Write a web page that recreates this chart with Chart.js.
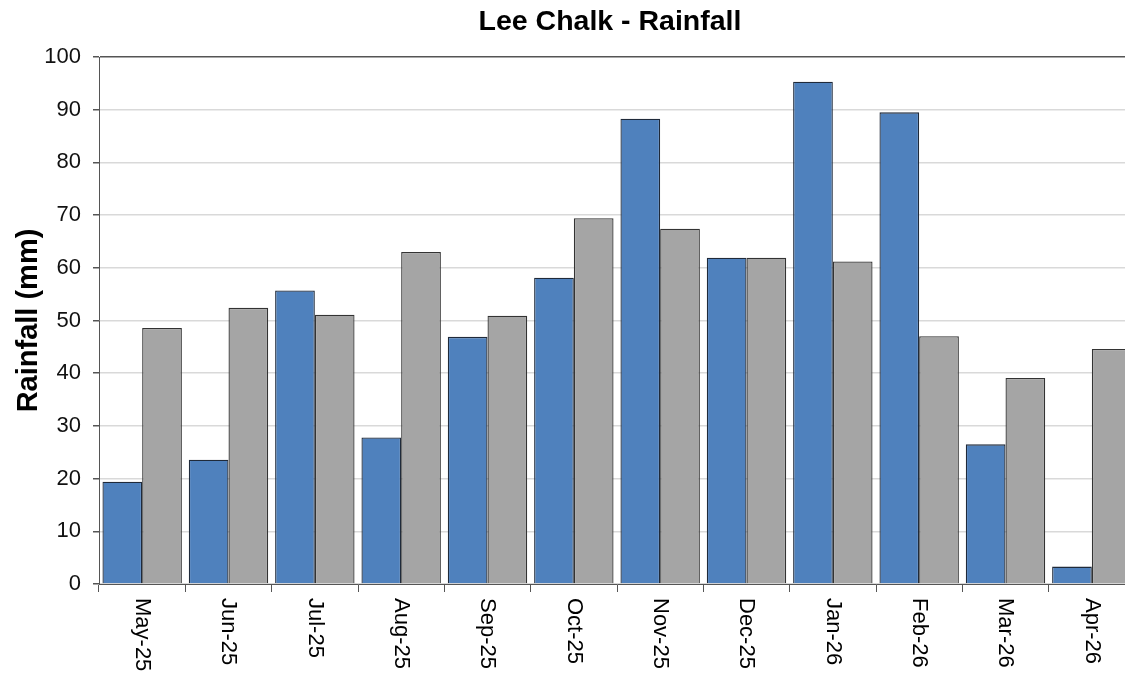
<!DOCTYPE html>
<html>
<head>
<meta charset="utf-8">
<script src="https://cdn.jsdelivr.net/npm/chart.js@4"></script>
<style>
  html, body { margin: 0; padding: 0; background: #fff; overflow: hidden; }
  #wrap { width: 1140px; height: 675px; }
</style>
</head>
<body>
<div id="wrap"><canvas id="rainChart" width="1140" height="675"></canvas></div>
<script>
const months = ['May-25', 'Jun-25', 'Jul-25', 'Aug-25', 'Sep-25', 'Oct-25', 'Nov-25', 'Dec-25', 'Jan-26', 'Feb-26', 'Mar-26', 'Apr-26'];
const rainfall = [19.4, 23.6, 55.7, 27.8, 46.9, 58.1, 88.3, 61.9, 95.3, 89.5, 26.5, 3.3];
const average = [48.6, 52.4, 51.1, 63.0, 50.9, 69.4, 67.4, 61.9, 61.2, 47.0, 39.1, 44.6];
const yTicks = [0, 10, 20, 30, 40, 50, 60, 70, 80, 90, 100];

const FONT = "'Liberation Sans', Arial, sans-serif";

// title and rotated month labels (top-to-bottom reading), drawn on the canvas
const labelsPlugin = {
  id: 'labels',
  afterDraw(chart) {
    const ctx = chart.ctx;
    const x = chart.scales.x;
    const area = chart.chartArea;
    ctx.save();
    ctx.fillStyle = '#000';
    ctx.font = `bold 28.5px ${FONT}`;
    ctx.textAlign = 'center';
    ctx.textBaseline = 'middle';
    ctx.fillText('Lee Chalk - Rainfall', 610, 22);

    ctx.font = `22px ${FONT}`;
    ctx.textAlign = 'left';
    months.forEach((m, i) => {
      ctx.save();
      ctx.translate(x.getPixelForValue(i), area.bottom + 14);
      ctx.rotate(Math.PI / 2);
      ctx.fillText(m, 0, 0);
      ctx.restore();
    });
    ctx.restore();
  }
};

new Chart(document.getElementById('rainChart'), {
  type: 'bar',
  data: {
    labels: months,
    datasets: [
      { label: 'Rainfall', data: rainfall, backgroundColor: '#4F81BD', borderColor: '#1f2a3a', borderWidth: 1.3 },
      { label: 'Average', data: average, backgroundColor: '#A5A5A5', borderColor: '#333', borderWidth: 1.3 }
    ]
  },
  options: {
    responsive: false,
    animation: false,
    layout: { padding: { top: 57, left: 12, right: 5, bottom: 0 } },
    datasets: { bar: { categoryPercentage: 0.92, barPercentage: 1.0 } },
    plugins: { legend: { display: false }, title: { display: false }, tooltip: { enabled: false } },
    scales: {
      x: {
        grid: { display: true, drawOnChartArea: false, drawTicks: true, tickLength: 8, color: '#555', offset: true },
        border: { color: '#555', width: 1 },
        ticks: { display: false },
        afterFit(s) { s.height = 91; }
      },
      y: {
        min: 0,
        max: 100,
        afterBuildTicks(s) { s.ticks = yTicks.map(v => ({ value: v })); },
        grid: {
          color: c => (c.tick && c.tick.value === 100 ? '#555' : '#d9d9d9'),
          lineWidth: 1.5,
          tickColor: '#555',
          tickLength: 6
        },
        border: { color: '#555', width: 1 },
        ticks: { color: '#111', font: { family: FONT, size: 22 }, padding: 12 },
        title: { display: true, text: 'Rainfall (mm)', color: '#000', font: { family: FONT, size: 29, weight: 'bold' }, padding: { top: 0, bottom: 0 } },
        afterFit(s) { s.width = 87; }
      }
    }
  },
  plugins: [labelsPlugin]
});
</script>
</body>
</html>
